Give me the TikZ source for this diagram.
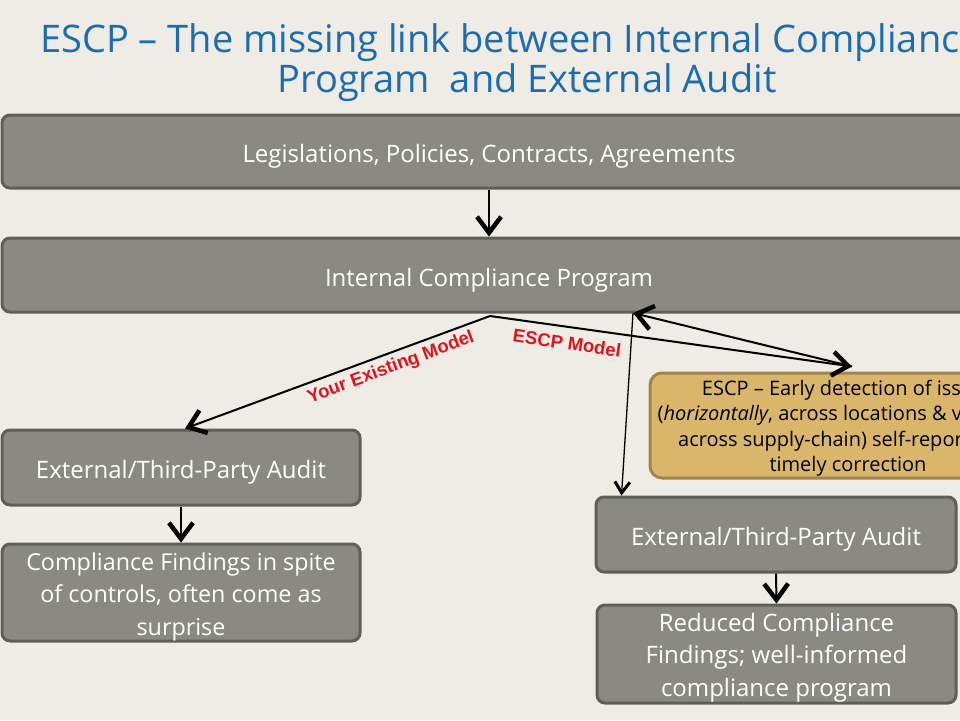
\documentclass[tikz,border=0pt]{standalone}
\usepackage{fontspec}
\setmainfont{Open Sans}
\newfontfamily\lblfont{Liberation Sans}
\usetikzlibrary{arrows.meta}
\definecolor{bg}{RGB}{238,236,228}
\definecolor{boxfill}{RGB}{138,138,131}
\definecolor{boxline}{RGB}{95,95,90}
\definecolor{escpfill}{RGB}{217,182,106}
\definecolor{escpline}{RGB}{160,134,78}
\definecolor{titleblue}{RGB}{28,108,178}
\definecolor{lblred}{RGB}{222,20,32}
\tikzset{
  graybox/.style={draw=boxline, fill=boxfill, line width=3pt, rounded corners=8pt,
    text=white, align=center, inner sep=0pt, font=\fontsize{24}{32.5}\selectfont},
  oneline/.style={text height=25pt, text depth=3pt},
  boxtext/.style={text=white, align=center, inner sep=0pt, font=\fontsize{24}{32.5}\selectfont},
  escpbox/.style={draw=escpline, fill=escpfill, line width=3pt, rounded corners=12pt},
  escptext/.style={text=black, align=center, inner sep=0pt, font=\fontsize{20}{25.5}\selectfont},
  bigarr/.style={line width=2pt, -{Straight Barb[length=16pt,width=24pt,line width=4.5pt]}},
  thinarr/.style={line width=1.3pt, -{Straight Barb[length=11pt,width=15pt,line width=3pt]}},
  redlbl/.style={text=lblred, font=\lblfont\bfseries\fontsize{18.5}{20}\selectfont, inner sep=0pt},
  titletext/.style={text=titleblue, font=\fontsize{38}{40}\selectfont, inner sep=0pt}
}
\begin{document}
\begin{tikzpicture}[x=1pt,y=-1pt]
\useasboundingbox (0,0) rectangle (960,720);
\clip (0,0) rectangle (960,720);
\fill[bg] (0,0) rectangle (960,720);

% title
\node[titletext, anchor=west] (t1) at (40,43) {ESCP – The missing link between Internal Compliance};
\node[titletext] (t2) at (527,83) {Program \ and External Audit};

% boxes
\node[graybox, oneline, minimum width=974pt, minimum height=73pt] (leg) at (489,151.5) {Legislations, Policies, Contracts, Agreements};
\node[graybox, oneline, minimum width=974pt, minimum height=74pt] (icp) at (489,275) {Internal Compliance Program};
\node[graybox, oneline, minimum width=358pt, minimum height=75pt] (laud) at (181,467.5) {External/Third-Party Audit};
\node[graybox, minimum width=358pt, minimum height=97pt] (find) at (181,592.5) {};
\node[boxtext, font=\fontsize{23.3}{32.5}\selectfont] (findtxt) at ([yshift=-4pt]find.center) {Compliance Findings in spite\\of controls, often come as\\surprise};
\node[graybox, oneline, minimum width=360pt, minimum height=75pt] (raud) at (776,534.5) {External/Third-Party Audit};
\node[graybox, minimum width=359pt, minimum height=98pt] (red) at (776.5,654) {};
\node[boxtext] (redtxt) at ([yshift=-3.5pt]red.center) {Reduced Compliance\\Findings; well-informed\\compliance program};
\node[escpbox, minimum width=396pt, minimum height=105pt] (escp) at (848,425.5) {};
\node[escptext] (escptxt) at ([yshift=-2.5pt]escp.center) {ESCP – Early detection of issues\\(\textit{horizontally}, across locations \& vertically,\\across supply-chain) self-reporting \&\\timely correction};

% connectors
\coordinate (apex) at (490,316);
\coordinate (icpr) at (633,313);
\draw[bigarr] (leg.south) -- (icp.north);
\draw[bigarr] (apex) -- ([xshift=4pt]laud.north);
\draw[bigarr] (apex) -- ([xshift=4pt,yshift=5pt]escp.north);
\draw[bigarr] ([xshift=4pt,yshift=5pt]escp.north) -- (icpr);
\draw[thinarr] (icpr) -- ([xshift=27pt]raud.north west);
\draw[bigarr] (laud.south) -- (find.north);
\draw[bigarr] (raud.south) -- (red.north);

% labels
\node[redlbl, rotate=20.5] (l1) at (391,368) {Your Existing Model};
\node[redlbl, rotate=-8.5] (l2) at (567,343) {ESCP Model};
\end{tikzpicture}
\end{document}
